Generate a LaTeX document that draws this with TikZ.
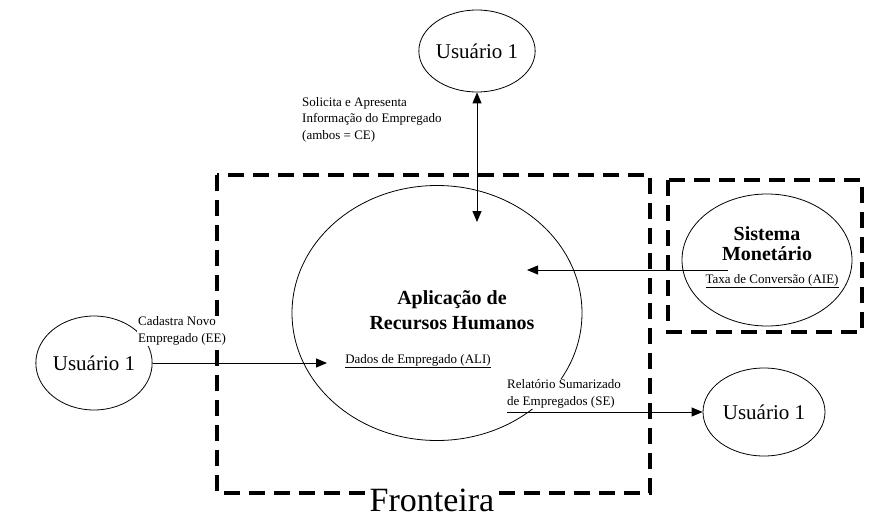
\documentclass[tikz,border=0pt]{standalone}
\usepackage{fontspec}
\setmainfont{Liberation Serif}
\usetikzlibrary{shapes.geometric,arrows.meta}
\tikzset{
  usuario/.style={draw,ellipse,line width=0.8pt,inner sep=0pt,font=\fontsize{21}{24}\selectfont},
  flecha/.style={-{Triangle[length=11pt,width=9pt]},line width=1pt},
  borde/.style={line width=3.5pt,dash pattern=on 16pt off 9pt},
  rotulo/.style={font=\fontsize{13}{16.5}\selectfont,align=left,inner sep=1pt},
  titulo/.style={font=\bfseries\fontsize{20}{25}\selectfont,align=center}
}
\begin{document}
\begin{tikzpicture}[x=1pt,y=-1pt]
        \useasboundingbox (0,0) rectangle (896,530);

        % Fronteras
        \draw[borde] (217,175) rectangle (650,493);
        \draw[borde] (668,180) rectangle (862,332);
        \node[fill=white,inner sep=2pt,font=\fontsize{34}{36}\selectfont] (fronteira) at (432,500) {Fronteira};

        % Aplicacion
        \node[draw,ellipse,line width=0.8pt,minimum width=290pt,minimum height=255pt] (app) at (437,313) {};
        \node[titulo] (apptit) at (452,310) {Aplicação de\\Recursos Humanos};
        \node[rotulo] (ali) at (418,361) {\underline{Dados de Empregado (ALI)}};

        % Sistema externo
        \node[draw,ellipse,line width=0.8pt,minimum width=170pt,minimum height=132pt] (sistema) at (767,260) {};
        \node[titulo,font=\bfseries\fontsize{20}{20}\selectfont] (sistit) at (767,244) {Sistema\\Monetário};
        \node[rotulo] (aie) at (772,281) {\underline{Taxa de Conversão (AIE)}};

        % Usuarios
        \node[usuario,minimum width=90pt,minimum height=82pt] (u1) at (477,51) {Usuário 1};
        \node[usuario,minimum width=98pt,minimum height=94pt] (u2) at (94,363) {Usuário 1};
        \node[usuario,minimum width=122pt,minimum height=88pt] (u3) at (764,412) {Usuário 1};

        % Flujos
        \coordinate (ce) at (477,222);
        \coordinate (ee) at (327,363);
        \coordinate (se) at (507,412);
        \coordinate (aieini) at (728,270);
        \coordinate (aiefim) at (527,270);
        \draw[flecha,{Triangle[length=11pt,width=9pt]}-{Triangle[length=11pt,width=9pt]}] (u1) -- (ce);
        \draw[flecha] (u2) -- (ee);
        \draw[flecha] (se) -- (u3);
        \draw[flecha] (aieini) -- (aiefim);

        % Rotulos
        \node[rotulo,anchor=north west] (cerot) at (301,96) {Solicita e Apresenta\\Informação do Empregado\\(ambos = CE)};
        \node[rotulo,anchor=west,fill=white] (eerot) at (137,331) {Cadastra Novo\\Empregado (EE)};
        \node[rotulo,anchor=west,fill=white] (serot) at (506,394) {Relatório Sumarizado\\de Empregados (SE)};
    \end{tikzpicture}
\end{document}
